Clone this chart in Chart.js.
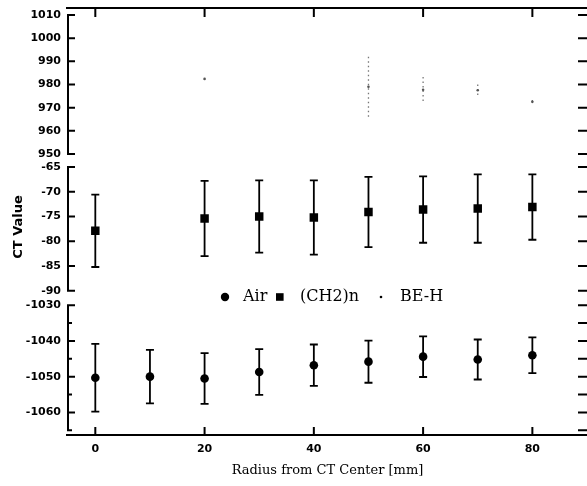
<!DOCTYPE html>
<html><head><meta charset="utf-8">
<script src="https://cdn.jsdelivr.net/npm/chart.js@4.4.1/dist/chart.umd.min.js"></script>
<style>html,body{margin:0;padding:0;background:#fff;}#wrap{width:587px;height:486px;position:relative;}</style>
</head><body><div id="wrap"><canvas id="c" width="587" height="486"></canvas></div>
<script>
// ---- data ----
const airRadii  = [0, 10, 20, 30, 40, 50, 60, 70, 80];
const airValues = [-1050.3, -1050.0, -1050.5, -1048.7, -1046.8, -1045.8, -1044.4, -1045.2, -1044.0];
const airSD     = [9.5, 7.5, 7.1, 6.4, 5.8, 5.9, 5.7, 5.6, 5.0];

const ch2Radii  = [0, 20, 30, 40, 50, 60, 70, 80];
const ch2Values = [-77.9, -75.4, -75.0, -75.2, -74.1, -73.6, -73.4, -73.1];
const ch2SD     = [7.3, 7.6, 7.3, 7.5, 7.1, 6.7, 6.9, 6.6];

const behRadii  = [20, 50, 60, 70, 80];
const behValues = [982.4, 979.0, 977.7, 977.5, 972.5];
const behSD     = [0, 13, 5.5, 2.5, 0.8];

const xTicks      = [0, 20, 40, 60, 80];
const topTicks    = [950, 960, 970, 980, 990, 1000, 1010];
const midTicks    = [-90, -85, -80, -75, -70, -65];
const botTicks    = [-1060, -1050, -1040, -1030];
const botMinor    = [-1065, -1055, -1045, -1035];

const seriesNames = ['Air', '(CH2)n', 'BE-H'];
const yTitle = 'CT Value';
const xTitle = 'Radius from CT Center [mm]';

const toXY = (xs, ys) => xs.map((x, i) => ({x: x, y: ys[i]}));

const tickFont = {family: 'DejaVu Sans', size: 11, weight: 'bold'};

function yAxis(min, max, ticks, weight) {
  return {
    type: 'linear', position: 'left', stack: 'panels', stackWeight: weight,
    min: min, max: max,
    grid: {display: false, drawTicks: false}, border: {display: false},
    ticks: {font: tickFont, color: '#000', padding: 7, autoSkip: false, callback: v => String(v)},
    afterBuildTicks: s => { s.ticks = ticks.map(v => ({value: v})); },
    afterFit: s => { s.width = 68; s.paddingTop = 0; s.paddingBottom = 0; s.paddingLeft = 0; s.paddingRight = 0; }
  };
}

const errorBars = {
  id: 'errorBars',
  beforeDatasetsDraw(chart) {
    const ctx = chart.ctx;
    chart.data.datasets.forEach((ds, i) => {
      const meta = chart.getDatasetMeta(i);
      const ys = chart.scales[ds.yAxisID];
      ctx.save();
      ctx.strokeStyle = ds.errColor;
      ctx.lineWidth = ds.errWidth;
      ctx.setLineDash(ds.errDash || []);
      meta.data.forEach((pt, j) => {
        const e = ds.err[j];
        if (!e) return;
        const v = ds.data[j].y;
        const y1 = ys.getPixelForValue(v + e), y2 = ys.getPixelForValue(v - e);
        ctx.beginPath();
        ctx.moveTo(pt.x, y1); ctx.lineTo(pt.x, y2);
        if (ds.cap) {
          ctx.moveTo(pt.x - ds.cap, y1); ctx.lineTo(pt.x + ds.cap, y1);
          ctx.moveTo(pt.x - ds.cap, y2); ctx.lineTo(pt.x + ds.cap, y2);
        }
        ctx.stroke();
      });
      ctx.restore();
    });
  }
};

const frame = {
  id: 'frame',
  afterDraw(chart) {
    const ctx = chart.ctx, a = chart.chartArea, xs = chart.scales.x;
    ctx.save();
    ctx.strokeStyle = '#000';
    ctx.lineWidth = 2;
    ctx.lineCap = 'butt';
    ctx.beginPath();
    ctx.moveTo(a.left - 2, a.top); ctx.lineTo(a.right, a.top);
    ctx.moveTo(a.left - 2, a.bottom); ctx.lineTo(a.right, a.bottom);
    xTicks.forEach(v => {
      const px = xs.getPixelForValue(v);
      ctx.moveTo(px, a.top); ctx.lineTo(px, a.top + 9);
      ctx.moveTo(px, a.bottom); ctx.lineTo(px, a.bottom - 8);
    });
    ctx.stroke();
    const panels = [
      {s: chart.scales.yTop, major: topTicks, minor: [], lo: 950, hi: 1010},
      {s: chart.scales.yMid, major: midTicks, minor: [], lo: -90, hi: -65},
      {s: chart.scales.yBot, major: botTicks, minor: botMinor, lo: -1065, hi: -1030}
    ];
    panels.forEach(p => {
      ctx.beginPath();
      ctx.moveTo(a.left, p.s.getPixelForValue(p.hi) - 1);
      ctx.lineTo(a.left, p.s.getPixelForValue(p.lo) + 1);
      p.major.forEach(v => {
        const py = p.s.getPixelForValue(v);
        ctx.moveTo(a.left, py); ctx.lineTo(a.left + 7, py);
        ctx.moveTo(a.right, py); ctx.lineTo(a.right - 9, py);
      });
      p.minor.forEach(v => {
        const py = p.s.getPixelForValue(v);
        ctx.moveTo(a.left, py); ctx.lineTo(a.left + 4, py);
        ctx.moveTo(a.right, py); ctx.lineTo(a.right - 9, py);
      });
      ctx.stroke();
    });
    ctx.fillStyle = '#000';
    ctx.textBaseline = 'middle';
    ctx.textAlign = 'center';
    ctx.font = '13px "DejaVu Serif"';
    ctx.fillText(xTitle, (a.left + a.right) / 2, 471);
    ctx.save();
    ctx.translate(19, 227);
    ctx.rotate(-Math.PI / 2);
    ctx.font = 'bold 13px "DejaVu Sans"';
    ctx.fillText(yTitle, 0, 0);
    ctx.restore();
    const ly = 297, lx = a.left;
    ctx.font = '16px "DejaVu Serif"';
    ctx.textAlign = 'left';
    ctx.beginPath(); ctx.arc(lx + 157, ly, 4.2, 0, Math.PI * 2); ctx.fill();
    ctx.fillText(seriesNames[0], lx + 175, ly);
    ctx.fillRect(lx + 208, ly - 3.8, 7.6, 7.6);
    ctx.fillText(seriesNames[1], lx + 232, ly);
    ctx.beginPath(); ctx.arc(lx + 313, ly, 1.3, 0, Math.PI * 2); ctx.fill();
    ctx.fillText(seriesNames[2], lx + 332, ly);
    ctx.restore();
  }
};

new Chart(document.getElementById('c'), {
  type: 'scatter',
  data: {
    datasets: [
      {label: seriesNames[0], yAxisID: 'yBot', data: toXY(airRadii, airValues), err: airSD,
       pointStyle: 'circle', pointRadius: 4.3, backgroundColor: '#000', borderColor: '#000', borderWidth: 0,
       errColor: '#000', errWidth: 1.8, cap: 4},
      {label: seriesNames[1], yAxisID: 'yMid', data: toXY(ch2Radii, ch2Values), err: ch2SD,
       pointStyle: 'rect', pointRadius: 6, backgroundColor: '#000', borderColor: '#000', borderWidth: 0,
       errColor: '#000', errWidth: 1.8, cap: 4},
      {label: seriesNames[2], yAxisID: 'yTop', data: toXY(behRadii, behValues), err: behSD,
       pointStyle: 'circle', pointRadius: 1.3, backgroundColor: '#555', borderColor: '#555', borderWidth: 0,
       errColor: '#777', errWidth: 1.3, errDash: [1.5, 3], cap: 0}
    ]
  },
  options: {
    responsive: false, animation: false, devicePixelRatio: 1,
    layout: {autoPadding: false, padding: {top: 8, left: 0, right: 0, bottom: 0}},
    plugins: {legend: {display: false}, tooltip: {enabled: false}},
    scales: {
      x: {
        type: 'linear', position: 'bottom', min: -5, max: 90,
        grid: {display: false, drawTicks: false}, border: {display: false},
        ticks: {font: tickFont, color: '#000', padding: 8, autoSkip: false, maxRotation: 0, callback: v => String(v)},
        afterBuildTicks: s => { s.ticks = xTicks.map(v => ({value: v})); },
        afterFit: s => { s.height = 51; s.paddingLeft = 0; s.paddingRight = 0; s.paddingTop = 0; s.paddingBottom = 0; }
      },
      yBot: yAxis(-1066.33, -1027.7, botTicks, 138),
      yMid: yAxis(-91.26, -63.69, midTicks, 136.5),
      yTop: yAxis(947.2, 1013.0, topTicks, 152.5)
    }
  },
  plugins: [errorBars, frame]
});
</script></body></html>
